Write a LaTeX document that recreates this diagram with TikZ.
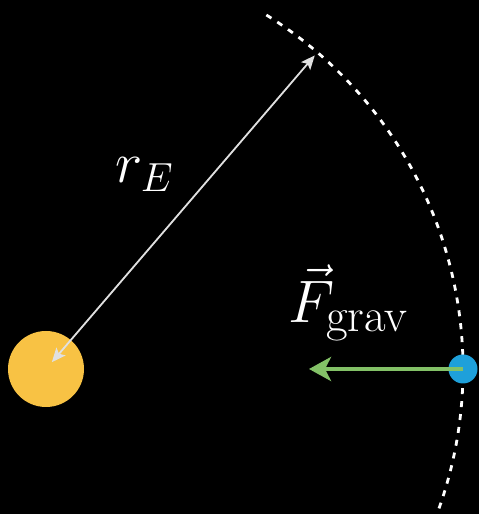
\RequirePackage{fix-cm}
\documentclass[tikz,border=0pt]{standalone}
\usetikzlibrary{arrows.meta,calc}
\definecolor{sunyellow}{HTML}{F8C244}
\definecolor{dotblue}{HTML}{1EA0DA}
\definecolor{forcegreen}{HTML}{83C167}
\tikzset{
  orbit/.style={white, line width=2.8pt, dash pattern=on 6pt off 7pt},
  radiusarrow/.style={white!88!black, line width=1.8pt, {Stealth[length=14pt,width=12pt,inset=3pt]}-{Stealth[length=14pt,width=12pt,inset=3pt]}},
  forcearrow/.style={forcegreen, line width=4.5pt, -{Stealth[length=22pt,width=24pt,inset=6pt]}},
  lbl/.style={white, inner sep=0pt}
}
\begin{document}
\begin{tikzpicture}[x=1pt,y=1pt]
\fill[black] (0,0) rectangle (479,514);
\useasboundingbox (0,0) rectangle (479,514);
\coordinate (c) at (46,145);
\draw[orbit] (c) ++(58.1:417) arc[start angle=58.1, end angle=-20.5, radius=417];
\node[circle, fill=sunyellow, minimum size=76pt, inner sep=0pt] (sun) at (c) {};
\coordinate (rin) at ($(c)+(49.4:9)$);
\coordinate (rout) at ($(c)+(49.4:413)$);
\draw[radiusarrow] (rin) -- (rout);
\node[circle, fill=dotblue, minimum size=29pt, inner sep=0pt] (planet) at (463,145) {};
\coordinate (ftip) at (309,145);
\draw[forcearrow] (planet.center) -- (ftip);
\node[lbl, anchor=base west, font=\fontsize{58}{60}\selectfont] (rE) at (115,331) {$r_E$};
\node[lbl, anchor=base west, font=\fontsize{60}{64}\selectfont] (F) at (288,191) {$\vec{F}_{\mbox{\fontsize{47}{50}\selectfont grav}}$};
\end{tikzpicture}
\end{document}
